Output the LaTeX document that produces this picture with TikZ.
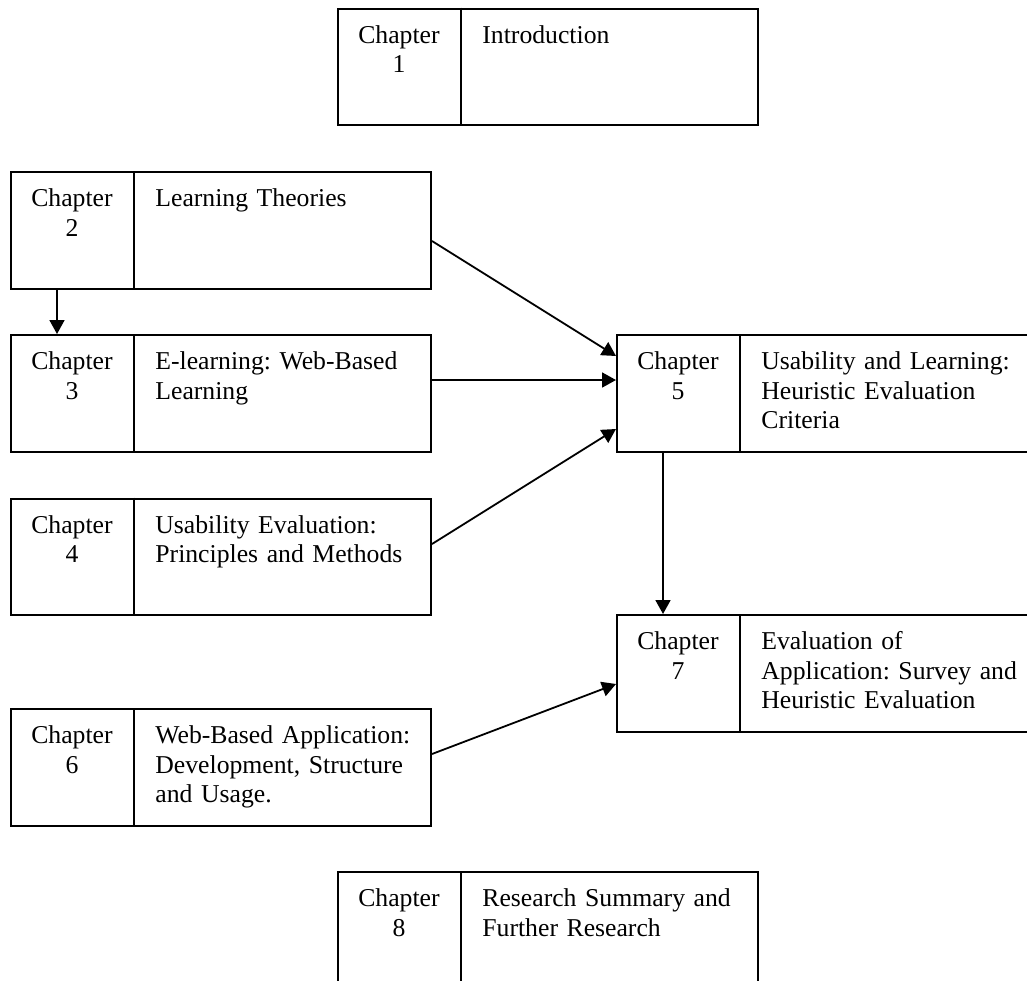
\documentclass[tikz,border=0pt]{standalone}
\usepackage{fontspec}
\setmainfont{Liberation Serif}
\usetikzlibrary{arrows.meta}

\newcommand\chfont{\frenchspacing\fontsize{12.85}{14.75}\selectfont}

\tikzset{
  box/.style={draw, line width=1pt, rectangle, inner sep=0pt,
    minimum width=210pt, minimum height=58.25pt, anchor=north west},
  rule/.style={line width=1pt},
  numtext/.style={anchor=base, inner sep=0pt, text width=62pt,
    align=center, font=\chfont},
  titletext/.style={anchor=base west, inner sep=0pt, text width=140pt,
    align=left, font=\chfont},
  arr/.style={line width=0.9pt, -{Triangle[length=7pt,width=7.5pt]}}
}

% one chapter box: name, top-left x, top-left y, number, title lines
\newcommand\ChBox[5]{%
  \node[box] (#1) at (#2,#3) {};
  \draw[rule] ([xshift=62pt]#1.north west) -- ([xshift=62pt]#1.south west);
  \node[numtext] (#1n) at ([xshift=31pt,yshift=-17.75pt]#1.north west) {Chapter\\#4};
  \node[titletext] (#1t) at ([xshift=72.5pt,yshift=-17.75pt]#1.north west) {#5};
}

\begin{document}
\begin{tikzpicture}[x=0.5pt, y=-0.5pt]
  \useasboundingbox (0,0) rectangle (1027,980);
  \clip (0,0) rectangle (1027,980);

  \ChBox{b1}{337}{7.5}{1}{Introduction}
  \ChBox{b2}{10}{171}{2}{Learning Theories}
  \ChBox{b3}{10}{334}{3}{E-learning: Web-Based\\Learning}
  \ChBox{b4}{10}{497.5}{4}{Usability Evaluation:\\Principles and Methods}
  \ChBox{b5}{616}{334}{5}{Usability and Learning:\\Heuristic Evaluation\\Criteria}
  \ChBox{b7}{616}{614}{7}{Evaluation of\\Application: Survey and\\Heuristic Evaluation}
  \ChBox{b6}{10}{708}{6}{Web-Based Application:\\Development, Structure\\and Usage.}
  \ChBox{b8}{337}{871}{8}{Research Summary and\\Further Research}

  % connectors
  \draw[arr] ([xshift=23.5pt]b2.south west) -- ([xshift=23.5pt]b3.north west);
  \draw[arr] ([yshift=-35pt]b2.north east) -- ([yshift=-11pt]b5.north west);
  \draw[arr] ([yshift=-23pt]b3.north east) -- ([yshift=-23pt]b5.north west);
  \draw[arr] ([yshift=-23.25pt]b4.north east) -- ([yshift=-47.5pt]b5.north west);
  \draw[arr] ([xshift=23.5pt]b5.south west) -- ([xshift=23.5pt]b7.north west);
  \draw[arr] ([yshift=-23pt]b6.north east) -- ([yshift=-35pt]b7.north west);
\end{tikzpicture}
\end{document}
